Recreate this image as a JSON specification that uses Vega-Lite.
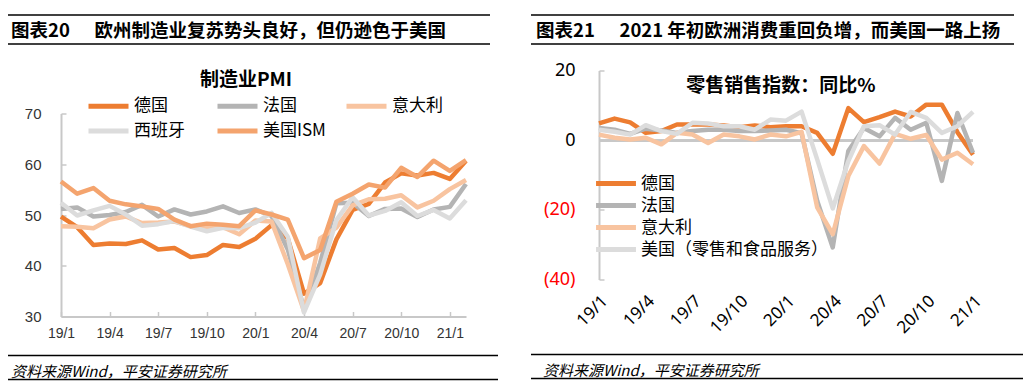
{
  "$schema": "https://vega.github.io/schema/vega-lite/v6.json",
  "padding": {"left": 7, "top": 14, "right": 0, "bottom": 0},
  "background": "white",
  "config": {"view": {"stroke": null}, "font": "Noto Sans CJK SC"},
  "resolve": {"scale": {"color": "independent", "x": "independent", "y": "independent"}, "legend": {"color": "independent"}},
  "datasets": {
    "pmi": [
      {"m":"19/1","s":"德国","v":49.7},{"m":"19/2","s":"德国","v":47.6},{"m":"19/3","s":"德国","v":44.1},{"m":"19/4","s":"德国","v":44.4},{"m":"19/5","s":"德国","v":44.3},{"m":"19/6","s":"德国","v":45.0},{"m":"19/7","s":"德国","v":43.2},{"m":"19/8","s":"德国","v":43.5},{"m":"19/9","s":"德国","v":41.7},{"m":"19/10","s":"德国","v":42.1},{"m":"19/11","s":"德国","v":44.1},{"m":"19/12","s":"德国","v":43.7},{"m":"20/1","s":"德国","v":45.3},{"m":"20/2","s":"德国","v":48.0},{"m":"20/3","s":"德国","v":45.4},{"m":"20/4","s":"德国","v":34.5},{"m":"20/5","s":"德国","v":36.6},{"m":"20/6","s":"德国","v":45.2},{"m":"20/7","s":"德国","v":51.0},{"m":"20/8","s":"德国","v":52.2},{"m":"20/9","s":"德国","v":56.4},{"m":"20/10","s":"德国","v":58.2},{"m":"20/11","s":"德国","v":57.8},{"m":"20/12","s":"德国","v":58.3},{"m":"21/1","s":"德国","v":57.1},{"m":"21/2","s":"德国","v":60.7},
      {"m":"19/1","s":"法国","v":51.2},{"m":"19/2","s":"法国","v":51.5},{"m":"19/3","s":"法国","v":49.7},{"m":"19/4","s":"法国","v":50.0},{"m":"19/5","s":"法国","v":50.6},{"m":"19/6","s":"法国","v":52.0},{"m":"19/7","s":"法国","v":49.7},{"m":"19/8","s":"法国","v":51.1},{"m":"19/9","s":"法国","v":50.1},{"m":"19/10","s":"法国","v":50.7},{"m":"19/11","s":"法国","v":51.7},{"m":"19/12","s":"法国","v":50.4},{"m":"20/1","s":"法国","v":51.1},{"m":"20/2","s":"法国","v":49.8},{"m":"20/3","s":"法国","v":43.2},{"m":"20/4","s":"法国","v":31.5},{"m":"20/5","s":"法国","v":40.6},{"m":"20/6","s":"法国","v":52.3},{"m":"20/7","s":"法国","v":52.4},{"m":"20/8","s":"法国","v":49.8},{"m":"20/9","s":"法国","v":51.2},{"m":"20/10","s":"法国","v":51.3},{"m":"20/11","s":"法国","v":49.6},{"m":"20/12","s":"法国","v":51.1},{"m":"21/1","s":"法国","v":51.6},{"m":"21/2","s":"法国","v":56.1},
      {"m":"19/1","s":"意大利","v":47.8},{"m":"19/2","s":"意大利","v":47.7},{"m":"19/3","s":"意大利","v":47.4},{"m":"19/4","s":"意大利","v":49.1},{"m":"19/5","s":"意大利","v":49.7},{"m":"19/6","s":"意大利","v":48.4},{"m":"19/7","s":"意大利","v":48.5},{"m":"19/8","s":"意大利","v":48.7},{"m":"19/9","s":"意大利","v":47.8},{"m":"19/10","s":"意大利","v":47.7},{"m":"19/11","s":"意大利","v":47.6},{"m":"19/12","s":"意大利","v":46.2},{"m":"20/1","s":"意大利","v":48.9},{"m":"20/2","s":"意大利","v":48.7},{"m":"20/3","s":"意大利","v":40.3},{"m":"20/4","s":"意大利","v":31.1},{"m":"20/5","s":"意大利","v":45.4},{"m":"20/6","s":"意大利","v":47.5},{"m":"20/7","s":"意大利","v":51.9},{"m":"20/8","s":"意大利","v":53.1},{"m":"20/9","s":"意大利","v":53.2},{"m":"20/10","s":"意大利","v":53.9},{"m":"20/11","s":"意大利","v":51.5},{"m":"20/12","s":"意大利","v":52.8},{"m":"21/1","s":"意大利","v":55.1},{"m":"21/2","s":"意大利","v":56.9},
      {"m":"19/1","s":"西班牙","v":52.4},{"m":"19/2","s":"西班牙","v":49.9},{"m":"19/3","s":"西班牙","v":50.9},{"m":"19/4","s":"西班牙","v":51.8},{"m":"19/5","s":"西班牙","v":50.1},{"m":"19/6","s":"西班牙","v":47.9},{"m":"19/7","s":"西班牙","v":48.2},{"m":"19/8","s":"西班牙","v":48.8},{"m":"19/9","s":"西班牙","v":47.7},{"m":"19/10","s":"西班牙","v":46.8},{"m":"19/11","s":"西班牙","v":47.5},{"m":"19/12","s":"西班牙","v":47.4},{"m":"20/1","s":"西班牙","v":48.5},{"m":"20/2","s":"西班牙","v":50.4},{"m":"20/3","s":"西班牙","v":45.7},{"m":"20/4","s":"西班牙","v":30.8},{"m":"20/5","s":"西班牙","v":38.3},{"m":"20/6","s":"西班牙","v":49.0},{"m":"20/7","s":"西班牙","v":53.5},{"m":"20/8","s":"西班牙","v":49.9},{"m":"20/9","s":"西班牙","v":50.8},{"m":"20/10","s":"西班牙","v":52.5},{"m":"20/11","s":"西班牙","v":49.8},{"m":"20/12","s":"西班牙","v":51.0},{"m":"21/1","s":"西班牙","v":49.3},{"m":"21/2","s":"西班牙","v":52.9},
      {"m":"19/1","s":"美国ISM","v":56.6},{"m":"19/2","s":"美国ISM","v":54.2},{"m":"19/3","s":"美国ISM","v":55.3},{"m":"19/4","s":"美国ISM","v":52.8},{"m":"19/5","s":"美国ISM","v":52.1},{"m":"19/6","s":"美国ISM","v":51.7},{"m":"19/7","s":"美国ISM","v":51.2},{"m":"19/8","s":"美国ISM","v":49.1},{"m":"19/9","s":"美国ISM","v":47.8},{"m":"19/10","s":"美国ISM","v":48.3},{"m":"19/11","s":"美国ISM","v":48.1},{"m":"19/12","s":"美国ISM","v":47.8},{"m":"20/1","s":"美国ISM","v":50.9},{"m":"20/2","s":"美国ISM","v":50.1},{"m":"20/3","s":"美国ISM","v":49.1},{"m":"20/4","s":"美国ISM","v":41.5},{"m":"20/5","s":"美国ISM","v":43.1},{"m":"20/6","s":"美国ISM","v":52.6},{"m":"20/7","s":"美国ISM","v":54.2},{"m":"20/8","s":"美国ISM","v":56.0},{"m":"20/9","s":"美国ISM","v":55.4},{"m":"20/10","s":"美国ISM","v":59.3},{"m":"20/11","s":"美国ISM","v":57.5},{"m":"20/12","s":"美国ISM","v":60.7},{"m":"21/1","s":"美国ISM","v":58.7},{"m":"21/2","s":"美国ISM","v":60.8}
    ],
    "retail": [
      {"m":"19/1","s":"德国","v":4.8},{"m":"19/2","s":"德国","v":6.2},{"m":"19/3","s":"德国","v":5.1},{"m":"19/4","s":"德国","v":2.1},{"m":"19/5","s":"德国","v":2.6},{"m":"19/6","s":"德国","v":4.5},{"m":"19/7","s":"德国","v":4.5},{"m":"19/8","s":"德国","v":4.5},{"m":"19/9","s":"德国","v":4.2},{"m":"19/10","s":"德国","v":3.7},{"m":"19/11","s":"德国","v":4.2},{"m":"19/12","s":"德国","v":3.7},{"m":"20/1","s":"德国","v":4.0},{"m":"20/2","s":"德国","v":4.0},{"m":"20/3","s":"德国","v":2.1},{"m":"20/4","s":"德国","v":-3.9},{"m":"20/5","s":"德国","v":9.2},{"m":"20/6","s":"德国","v":5.2},{"m":"20/7","s":"德国","v":6.6},{"m":"20/8","s":"德国","v":8.2},{"m":"20/9","s":"德国","v":6.8},{"m":"20/10","s":"德国","v":10.2},{"m":"20/11","s":"德国","v":10.2},{"m":"20/12","s":"德国","v":2.3},{"m":"21/1","s":"德国","v":-4.2},
      {"m":"19/1","s":"法国","v":3.5},{"m":"19/2","s":"法国","v":3.0},{"m":"19/3","s":"法国","v":1.8},{"m":"19/4","s":"法国","v":3.3},{"m":"19/5","s":"法国","v":2.8},{"m":"19/6","s":"法国","v":2.1},{"m":"19/7","s":"法国","v":2.6},{"m":"19/8","s":"法国","v":3.0},{"m":"19/9","s":"法国","v":3.0},{"m":"19/10","s":"法国","v":2.6},{"m":"19/11","s":"法国","v":2.6},{"m":"19/12","s":"法国","v":2.8},{"m":"20/1","s":"法国","v":3.0},{"m":"20/2","s":"法国","v":2.0},{"m":"20/3","s":"法国","v":-17.4},{"m":"20/4","s":"法国","v":-30.8},{"m":"20/5","s":"法国","v":-3.1},{"m":"20/6","s":"法国","v":3.5},{"m":"20/7","s":"法国","v":1.1},{"m":"20/8","s":"法国","v":6.4},{"m":"20/9","s":"法国","v":3.0},{"m":"20/10","s":"法国","v":5.0},{"m":"20/11","s":"法国","v":-11.7},{"m":"20/12","s":"法国","v":7.8},{"m":"21/1","s":"法国","v":-3.6},
      {"m":"19/1","s":"意大利","v":1.6},{"m":"19/2","s":"意大利","v":0.7},{"m":"19/3","s":"意大利","v":0.2},{"m":"19/4","s":"意大利","v":0.7},{"m":"19/5","s":"意大利","v":-1.2},{"m":"19/6","s":"意大利","v":2.1},{"m":"19/7","s":"意大利","v":1.6},{"m":"19/8","s":"意大利","v":-0.8},{"m":"19/9","s":"意大利","v":1.6},{"m":"19/10","s":"意大利","v":1.1},{"m":"19/11","s":"意大利","v":0.2},{"m":"19/12","s":"意大利","v":1.6},{"m":"20/1","s":"意大利","v":1.1},{"m":"20/2","s":"意大利","v":2.4},{"m":"20/3","s":"意大利","v":-19.3},{"m":"20/4","s":"意大利","v":-27.0},{"m":"20/5","s":"意大利","v":-10.3},{"m":"20/6","s":"意大利","v":-1.7},{"m":"20/7","s":"意大利","v":-6.7},{"m":"20/8","s":"意大利","v":1.8},{"m":"20/9","s":"意大利","v":0.4},{"m":"20/10","s":"意大利","v":1.5},{"m":"20/11","s":"意大利","v":-5.6},{"m":"20/12","s":"意大利","v":-3.6},{"m":"21/1","s":"意大利","v":-6.9},
      {"m":"19/1","s":"美国（零售和食品服务）","v":3.0},{"m":"19/2","s":"美国（零售和食品服务）","v":2.4},{"m":"19/3","s":"美国（零售和食品服务）","v":1.6},{"m":"19/4","s":"美国（零售和食品服务）","v":4.3},{"m":"19/5","s":"美国（零售和食品服务）","v":2.6},{"m":"19/6","s":"美国（零售和食品服务）","v":1.8},{"m":"19/7","s":"美国（零售和食品服务）","v":5.0},{"m":"19/8","s":"美国（零售和食品服务）","v":4.8},{"m":"19/9","s":"美国（零售和食品服务）","v":4.0},{"m":"19/10","s":"美国（零售和食品服务）","v":4.0},{"m":"19/11","s":"美国（零售和食品服务）","v":3.0},{"m":"19/12","s":"美国（零售和食品服务）","v":5.9},{"m":"20/1","s":"美国（零售和食品服务）","v":5.6},{"m":"20/2","s":"美国（零售和食品服务）","v":8.2},{"m":"20/3","s":"美国（零售和食品服务）","v":-5.5},{"m":"20/4","s":"美国（零售和食品服务）","v":-19.6},{"m":"20/5","s":"美国（零售和食品服务）","v":-6.0},{"m":"20/6","s":"美国（零售和食品服务）","v":4.0},{"m":"20/7","s":"美国（零售和食品服务）","v":4.3},{"m":"20/8","s":"美国（零售和食品服务）","v":1.6},{"m":"20/9","s":"美国（零售和食品服务）","v":8.1},{"m":"20/10","s":"美国（零售和食品服务）","v":6.4},{"m":"20/11","s":"美国（零售和食品服务）","v":2.1},{"m":"20/12","s":"美国（零售和食品服务）","v":4.0},{"m":"21/1","s":"美国（零售和食品服务）","v":8.1}
    ]
  },
  "hconcat": [
    {
      "resolve": {"scale": {"color": "independent", "x": "independent", "y": "independent"}, "legend": {"color": "independent"}},
      "vconcat": [
        {
          "width": 482, "height": 29,
          "data": {"values": [{}]},
          "title": {"text": "图表20\u3000\u2004欧州制造业复苏势头良好，但仍逊色于美国", "anchor": "start", "frame": "group", "baseline": "middle", "offset": -35, "dx": 3, "fontSize": 18.5, "fontWeight": "bold", "font": "Noto Sans CJK SC", "color": "black"},
          "layer": [
            {"mark": {"type": "rule", "stroke": "black", "strokeWidth": 1.5}, "encoding": {"y": {"datum": 1, "type": "quantitative", "scale": {"domain": [0, 1]}, "axis": null}}},
            {"mark": {"type": "rule", "stroke": "black", "strokeWidth": 1.5}, "encoding": {"y": {"datum": 0, "type": "quantitative", "axis": null}}}
          ]
        },
        {
          "resolve": {"scale": {"color": "independent", "x": "independent", "y": "independent"}, "legend": {"color": "independent"}},
          "vconcat": [
            {
              "width": 458, "height": 203,
              "title": {"text": "制造业PMI", "fontSize": 19, "font": "Noto Sans CJK SC", "fontWeight": "bold", "color": "black", "offset": 4, "frame": "group", "dx": 9},
              "data": {"name": "pmi"},
              "mark": {"type": "line", "strokeWidth": 4.5, "strokeJoin": "round"},
              "encoding": {
                "x": {"field": "m", "type": "ordinal",
                      "scale": {"type": "point", "padding": 0, "range": [53, 458], "domain": ["19/1","19/2","19/3","19/4","19/5","19/6","19/7","19/8","19/9","19/10","19/11","19/12","20/1","20/2","20/3","20/4","20/5","20/6","20/7","20/8","20/9","20/10","20/11","20/12","21/1","21/2"]},
                      "axis": {"values": ["19/1","19/4","19/7","19/10","20/1","20/4","20/7","20/10","21/1"], "labelAngle": 0, "labelFont": "Liberation Sans", "labelFontSize": 14, "labelColor": "#333333", "labelPadding": 15, "tickSize": -5, "tickColor": "#C8C8C8", "tickWidth": 1.5, "domainColor": "#C8C8C8", "domainWidth": 2, "title": null, "grid": false}},
                "y": {"field": "v", "type": "quantitative", "scale": {"domain": [30, 70], "zero": false, "nice": false},
                      "axis": {"offset": -53, "values": [30, 40, 50, 60, 70], "labelFont": "Liberation Sans", "labelFontSize": 15, "labelColor": "#333333", "labelPadding": 25, "tickSize": -5, "tickColor": "#C8C8C8", "tickWidth": 1.5, "domainColor": "#C8C8C8", "domainWidth": 2, "grid": false, "title": null}},
                "color": {"field": "s", "type": "nominal",
                          "scale": {"domain": ["德国", "法国", "意大利", "西班牙", "美国ISM"], "range": ["#ED7D31", "#B4B4B4", "#F8C4A0", "#DCDCDC", "#F4A46E"]},
                          "legend": {"orient": "none", "legendX": 88, "legendY": -20, "direction": "horizontal", "columns": 3, "gridAlign": "all", "columnPadding": 10, "rowPadding": 2, "symbolType": "M-2,0H2", "symbolSize": 400, "symbolStrokeWidth": 5, "labelFontSize": 17, "labelFont": "Noto Sans CJK SC", "labelColor": "black", "labelOffset": 13, "labelLimit": 300, "title": null}}
              }
            },
            {
              "width": 490, "height": 24,
              "data": {"values": [{}]},
              "title": {"text": "资料来源Wind，平安证券研究所", "anchor": "start", "frame": "group", "baseline": "middle", "offset": -32, "dx": 3, "fontSize": 15, "fontStyle": "italic", "fontWeight": "normal", "font": "Noto Sans CJK SC", "color": "black"},
              "layer": [
                {"mark": {"type": "rule", "stroke": "black", "strokeWidth": 1.5}, "encoding": {"y": {"datum": 1, "type": "quantitative", "scale": {"domain": [0, 1]}, "axis": null}}},
                {"mark": {"type": "rule", "stroke": "black", "strokeWidth": 1.5}, "encoding": {"y": {"datum": 0, "type": "quantitative", "axis": null}}}
              ]
            }
          ],
          "spacing": 14
        }
      ],
      "spacing": 25.5
    },
    {
      "resolve": {"scale": {"color": "independent", "x": "independent", "y": "independent"}, "legend": {"color": "independent"}},
      "vconcat": [
        {
          "width": 483, "height": 29,
          "data": {"values": [{}]},
          "title": {"text": "图表21\u3000\u20042021 年初欧洲消费重回负增，而美国一路上扬", "anchor": "start", "frame": "group", "baseline": "middle", "offset": -35, "dx": 5, "fontSize": 18.5, "fontWeight": "bold", "font": "Noto Sans CJK SC", "color": "black"},
          "layer": [
            {"mark": {"type": "rule", "stroke": "black", "strokeWidth": 1.5}, "encoding": {"y": {"datum": 1, "type": "quantitative", "scale": {"domain": [0, 1]}, "axis": null}}},
            {"mark": {"type": "rule", "stroke": "black", "strokeWidth": 1.5}, "encoding": {"y": {"datum": 0, "type": "quantitative", "axis": null}}}
          ]
        },
        {
          "resolve": {"scale": {"color": "independent", "x": "independent", "y": "independent"}, "legend": {"color": "independent"}},
          "vconcat": [
            {
              "width": 442, "height": 209,
              "title": {"text": "零售销售指数：同比%", "fontSize": 19, "font": "Noto Sans CJK SC", "fontWeight": "bold", "color": "black", "offset": -34, "frame": "group", "dx": 29},
              "data": {"name": "retail"},
              "encoding": {
                "x": {"field": "m", "type": "ordinal",
                      "scale": {"type": "point", "padding": 0, "range": [68, 442], "domain": ["19/1","19/2","19/3","19/4","19/5","19/6","19/7","19/8","19/9","19/10","19/11","19/12","20/1","20/2","20/3","20/4","20/5","20/6","20/7","20/8","20/9","20/10","20/11","20/12","21/1"]},
                      "axis": {"values": ["19/1","19/4","19/7","19/10","20/1","20/4","20/7","20/10","21/1"], "labelAngle": -45, "labelFont": "Noto Sans", "labelFontSize": 17, "labelColor": "black", "labelPadding": 13, "ticks": false, "domain": false, "title": null, "grid": false}}
              },
              "layer": [
                {"mark": {"type": "rule", "color": "#C8C8C8", "strokeWidth": 2},
                 "encoding": {"x": {"datum": "19/1", "type": "ordinal"}, "x2": {"datum": "21/1"}, "y": {"datum": 0, "type": "quantitative"}}},
                {
                  "mark": {"type": "line", "strokeWidth": 4.5, "strokeJoin": "round"},
                  "encoding": {
                    "y": {"field": "v", "type": "quantitative", "scale": {"domain": [-40, 20], "zero": false, "nice": false},
                          "axis": {"offset": -68, "values": [-40, -30, -20, -10, 0, 10, 20], "labelExpr": "datum.value < 0 ? '(' + abs(datum.value) + ')' : datum.label", "labelColor": {"condition": {"test": "datum.value < 0", "value": "#FF0000"}, "value": "#000000"}, "labelFont": "Noto Sans", "labelFontSize": 18, "labelPadding": 29, "tickSize": -5, "tickColor": "#C8C8C8", "tickWidth": 1.5, "domainColor": "#C8C8C8", "domainWidth": 2, "grid": false, "title": null}},
                    "color": {"field": "s", "type": "nominal",
                              "scale": {"domain": ["德国", "法国", "意大利", "美国（零售和食品服务）"], "range": ["#ED7D31", "#B4B4B4", "#F8C4A0", "#DCDCDC"]},
                              "legend": {"orient": "none", "legendX": 73, "legendY": 101, "direction": "vertical", "rowPadding": -4, "symbolType": "M-2.1,0H2.1", "symbolSize": 361, "symbolStrokeWidth": 5, "labelFontSize": 17, "labelFont": "Noto Sans CJK SC", "labelColor": "black", "labelOffset": 13, "labelLimit": 300, "title": null}}
                  }
                }
              ]
            },
            {
              "width": 492, "height": 24,
              "data": {"values": [{}]},
              "title": {"text": "资料来源Wind，平安证券研究所", "anchor": "start", "frame": "group", "baseline": "middle", "offset": -32, "dx": 12, "fontSize": 15, "fontStyle": "italic", "fontWeight": "normal", "font": "Noto Sans CJK SC", "color": "black"},
              "layer": [
                {"mark": {"type": "rule", "stroke": "black", "strokeWidth": 1.5}, "encoding": {"y": {"datum": 1, "type": "quantitative", "scale": {"domain": [0, 1]}, "axis": null}}},
                {"mark": {"type": "rule", "stroke": "black", "strokeWidth": 1.5}, "encoding": {"y": {"datum": 0, "type": "quantitative", "axis": null}}}
              ]
            }
          ],
          "spacing": 17
        }
      ],
      "spacing": 16.5
    }
  ],
  "spacing": 31
}
